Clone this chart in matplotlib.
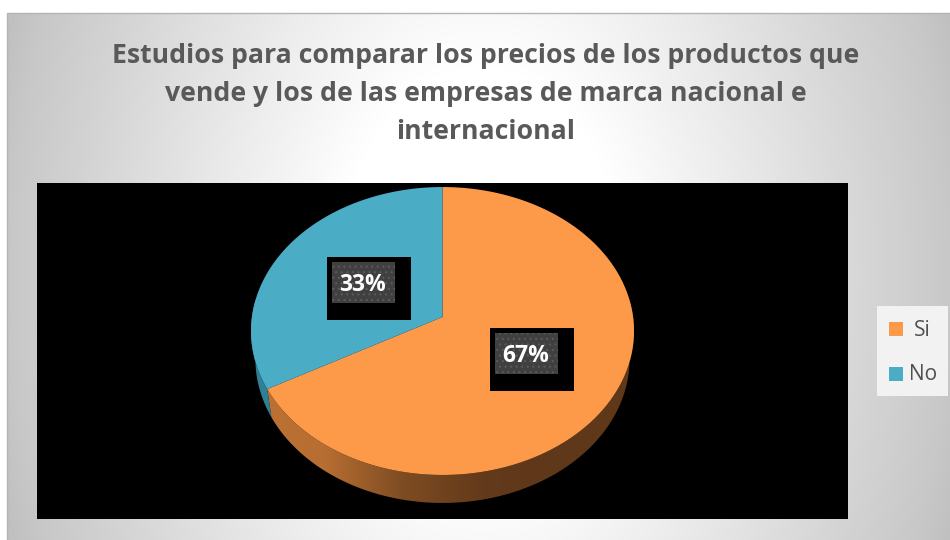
import numpy as np
import matplotlib
matplotlib.use("Agg")
import matplotlib.pyplot as plt
from matplotlib.colors import LinearSegmentedColormap
from matplotlib.patches import Polygon, Rectangle

title = "Estudios para comparar los precios de los productos que\nvende y los de las empresas de marca nacional e\ninternacional"
labels = ["Si", "No"]
values = [67, 33]
pct_labels = ["67%", "33%"]
colors = ["#FD9A4A", "#4BACC6"]

plt.rcParams['font.family'] = ['Open Sans', 'DejaVu Sans']
plt.rcParams['hatch.linewidth'] = 0.8

fig = plt.figure(figsize=(9.5, 5.4), dpi=100)
ax = fig.add_axes([0, 0, 1, 1])
ax.axis('off')


# perspective projection of the pie disc, angle measured clockwise from the top
def project(t, dy=0.0, shrink=1.0):
	u, v = np.sin(t), np.cos(t)
	w = 1 + 0.0972 * v
	return 442.5 + shrink * 190.6 * u / w, 317 - 142.6 * v / w + dy


# chart background, radial grey
yy, xx = np.mgrid[13:540, 7:950]
r = np.hypot((xx - 480) / 470, (yy - 276) / 700)
cmap = LinearSegmentedColormap.from_list("bg", [(0, "#FFFFFF"), (0.3 / 1.07, "#FFFFFF"), (1 / 1.07, "#C8C8C8"), (1, "#C0C0C0")], N=256)
ax.imshow(r, extent=(7, 950, 540, 13), cmap=cmap, vmin=0, vmax=1.07, aspect='auto', zorder=0)
ax.plot([7, 7, 950], [540, 13, 13], color="#B4B4B4", lw=1, zorder=1)

ax.add_patch(Rectangle((37, 183), 811, 336, fc="black", ec="none", zorder=1))

ax.text(485.5, 94, title, ha='center', va='center', fontsize=19.2, fontweight='bold',
	color="#595959", linespacing=1.59, zorder=5)

wall_maps = [
	LinearSegmentedColormap.from_list("w0", ["#BC7034", "#B86E32", "#7E4C22", "#633A1B", "#5F3819", "#5F3819"]),
	LinearSegmentedColormap.from_list("w1", ["#2F7F96", "#3A8CA6"]),
]
grad = np.linspace(0, 1, 256).reshape(1, -1)

fracs = np.array(values) / sum(values)
edges = np.concatenate([[0], np.cumsum(fracs)]) * 2 * np.pi
label_pos = [(490, 328), (327, 257)]

for i in range(len(values)):
	t = np.linspace(edges[i], edges[i + 1], 300)
	x, y = project(t)
	xb, yb = project(t, dy=28, shrink=0.977)
	wall = Polygon(np.vstack([np.c_[x, y], np.c_[xb, yb][::-1]]), closed=True, transform=ax.transData, fc="none", ec="none")
	ax.add_patch(wall)
	img = ax.imshow(grad, extent=(245, 640, 520, 300), cmap=wall_maps[i], aspect='auto', zorder=2)
	img.set_clip_path(wall)

for i in range(len(values)):
	t = np.linspace(edges[i], edges[i + 1], 300)
	x, y = project(t)
	px = np.r_[442.5, x]
	py = np.r_[317, y]
	ax.add_patch(Polygon(np.c_[px, py], closed=True, fc=colors[i], ec="none", zorder=3))

for i in range(len(values)):
	lx, ly = label_pos[i]
	ax.add_patch(Rectangle((lx, ly), 84, 63, fc="black", ec="none", zorder=4))
	ax.add_patch(Rectangle((lx + 5, ly + 5), 63, 41, fc="#404040", ec="#5A5A5A", lw=0, hatch='...', zorder=5))
	ax.text(lx + 36, ly + 28, pct_labels[i], ha='center', va='center', fontsize=16.5, fontweight='bold', color="white", zorder=6)

# legend
ax.add_patch(Rectangle((877, 306), 71, 90, fc="#F2F2F2", ec="none", zorder=4))
leg_y = [330, 375]
leg_x = [914, 909]
for i in range(len(labels)):
	ax.add_patch(Rectangle((889, leg_y[i] - 8), 14, 14, fc=colors[i], ec="none", zorder=5))
	ax.text(leg_x[i], leg_y[i], labels[i], ha='left', va='center', fontsize=15, color="#505050", zorder=5)

ax.set_xlim(0, 950)
ax.set_ylim(540, 0)
fig.savefig("out.png", dpi=100, facecolor="white")
